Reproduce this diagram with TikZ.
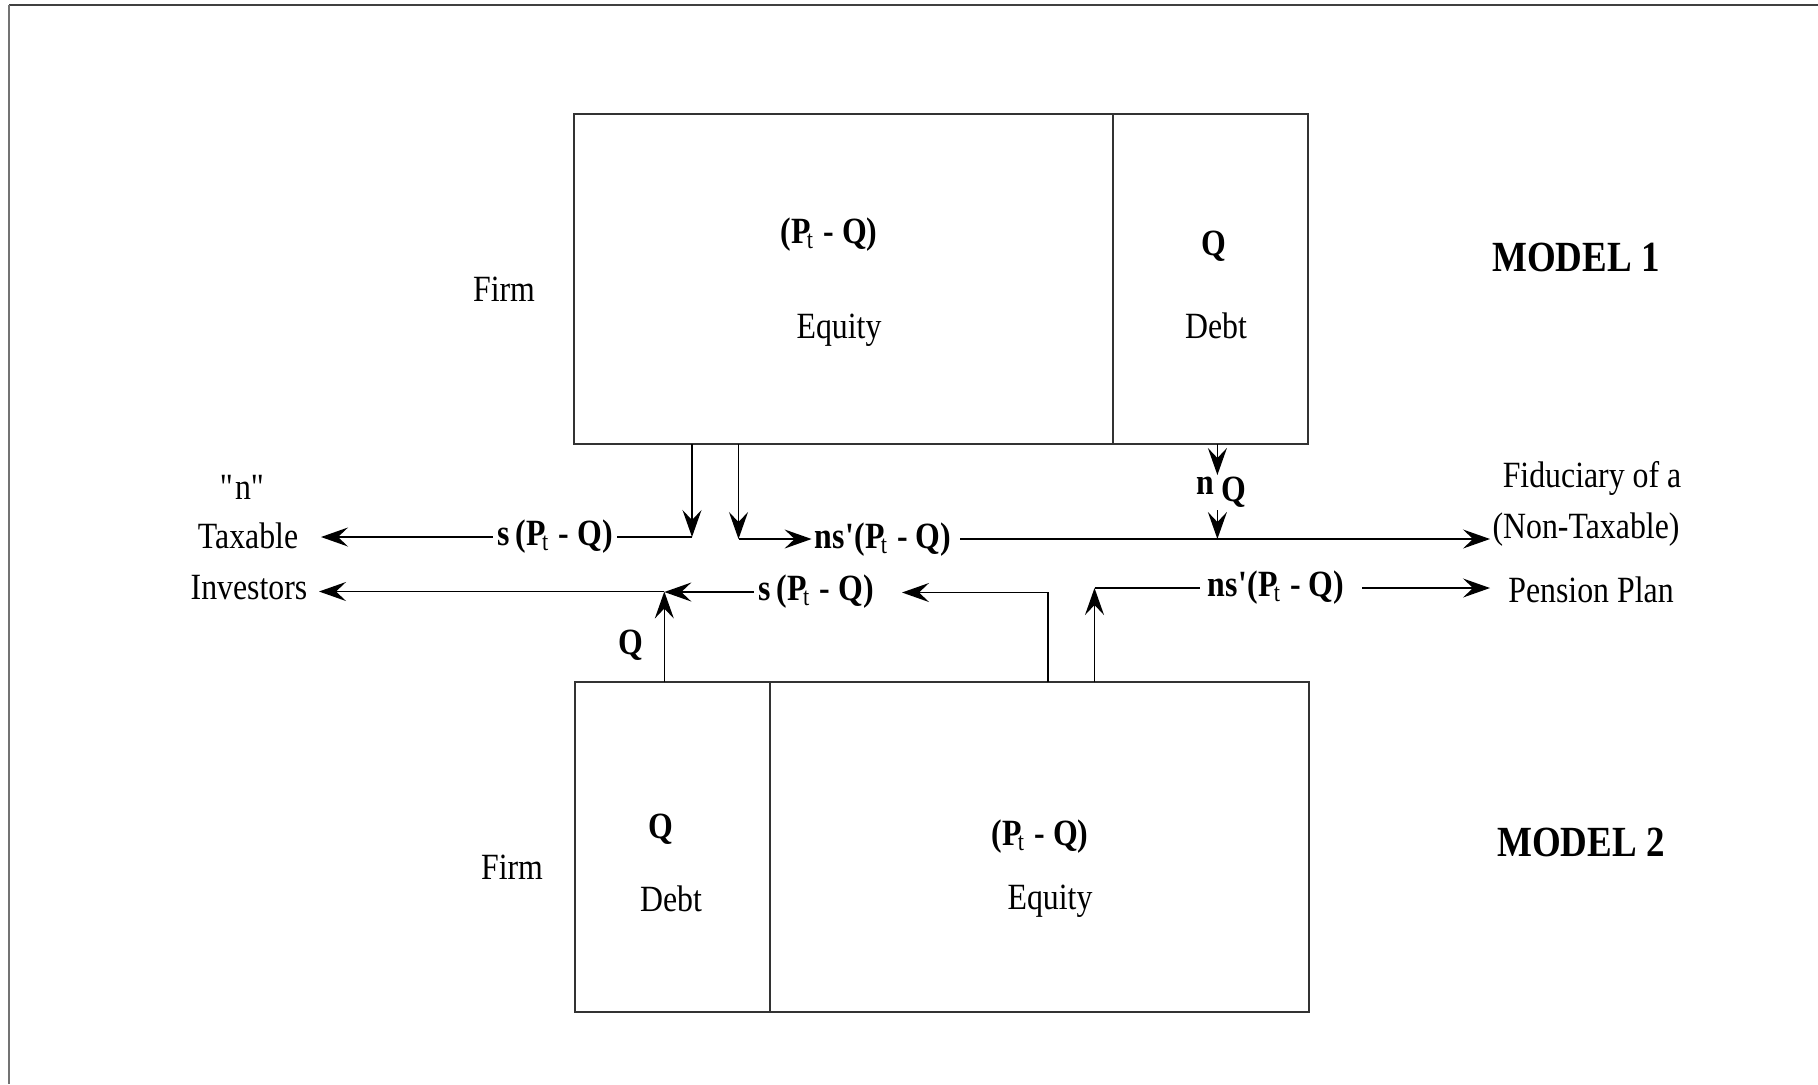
\documentclass[tikz,border=0pt]{standalone}
\usepackage{fontspec}
\setmainfont{Liberation Serif}[FakeStretch=0.86]
\usetikzlibrary{arrows.meta}
\newcommand\Pt{P\kern-0.1em\raisebox{-0.25ex}{\fontsize{13}{13}\selectfont\mdseries t}}
\newcommand\PQ{(\Pt\kern0.28em-\ Q)}
\newcommand\nsq{ns\kern0.02em\textquotesingle\kern-0.04em}
\begin{document}
\begin{tikzpicture}[x=0.5pt,y=-0.5pt,
  ln/.style={line width=0.75pt, draw=black},
  arr/.style={ln, -{Stealth[length=13.5pt,width=9.5pt,inset=5pt]}},
  part/.style={draw=black!80, line width=0.75pt, inner sep=0pt, outer sep=0pt,
               minimum height=165pt, anchor=north west},
  txt/.style={font=\fontsize{18.5}{20}\selectfont, inner sep=0pt},
  btxt/.style={font=\fontsize{18.5}{20}\selectfont\bfseries, inner sep=0pt},
  model/.style={font=\fontsize{21.5}{24}\selectfont\bfseries, inner sep=0pt}]
\useasboundingbox (0,0) rectangle (1818,1084);
% frame
\draw[black!75, line width=1pt] (1818,4.5) -- (8.7,4.5);
\draw[black!55, line width=1.1pt] (8.7,4.5) -- (8.7,1084);
% Model 1 firm
\node[part, minimum width=269.5pt] (teq) at (574,114) {};
\node[part, minimum width=97.5pt] (tdebt) at (1113,114) {};
\node[txt] (firm1) at (504,289) {Firm};
\node[btxt] (pq1) at (829,235) {\PQ};
\node[txt] (eq1) at (839,330) {Equity};
\node[btxt] (q1) at (1214,246) {Q};
\node[txt] (debt1) at (1216,326) {Debt};
\node[model] (m1) at (1576,257) {MODEL 1};
% Model 2 firm
\node[part, minimum width=97.5pt] (bdebt) at (575,682) {};
\node[part, minimum width=269.5pt] (beq) at (770,682) {};
\node[txt] (firm2) at (512,867) {Firm};
\node[btxt] (q2) at (661,829) {Q};
\node[txt] (debt2) at (671,899) {Debt};
\node[btxt] (pq2) at (1040,837) {\PQ};
\node[txt] (eq2) at (1050,901) {Equity};
\node[model] (m2) at (1581,842) {MODEL 2};
% investors and pension plan
\node[txt] (n) at (243,487) {\textquotedbl n\textquotedbl};
\node[txt] (tax) at (248,536) {Taxable};
\node[txt] (inv) at (249,588) {Investors};
\node[txt] (fid) at (1592,478) {Fiduciary of a};
\node[txt] (nontax) at (1586,530) {(Non-Taxable)};
\node[txt] (pens) at (1591,590) {Pension Plan};
% flow labels
\node[btxt] (l1) at (555,537) {s\,\PQ};
\node[btxt] (l2) at (883,540) {\nsq\PQ};
\node[btxt] (l3) at (816,592) {s\,\PQ};
\node[btxt] (l4) at (1276,588) {\nsq\PQ};
\node[btxt] (nq) at (1221,492) {n\kern0.2em\raisebox{-0.4ex}{Q}};
\node[btxt] (qup) at (631,645) {Q};
% junction points and free ends
\coordinate (j1) at (692,537);
\coordinate (j2) at (738.5,539);
\coordinate (j3) at (664.3,591.5);
\coordinate (j4) at (1048,592.5);
\coordinate (j5) at (1094.5,588);
\coordinate (nqa) at (1217.4,475);
\coordinate (nqb) at (1217.4,510);
\coordinate (nqc) at (1217.4,539);
\coordinate (taxtip) at (321,537);
\coordinate (invtip) at (319,591.5);
\coordinate (l1w) at (493,537);
\coordinate (l1e) at (617,537);
\coordinate (l2w) at (811.6,539);
\coordinate (l2e) at (960,539);
\coordinate (nontip) at (1490,539);
\coordinate (l3w) at (753.6,592);
\coordinate (l3e) at (902,592.5);
\coordinate (l4w) at (1200,588);
\coordinate (l4e) at (1362,588);
\coordinate (penstip) at (1490,588);
% connectors, Model 1
\draw[arr] (teq.south -| j1) -- (j1);
\draw[ln] (j1) -- (l1e);
\draw[arr] (l1w) -- (taxtip);
\draw[arr] (teq.south -| j2) -- (j2);
\draw[arr] (j2) -- (l2w);
\draw[ln] (l2e) -- (nqc);
\draw[arr] (nqc) -- (nontip);
\draw[arr] (tdebt.south -| nqa) -- (nqa);
\draw[arr] (nqb) -- (nqc);
% connectors, Model 2
\draw[arr] (bdebt.north -| j3) -- (j3);
\draw[arr] (j3) -- (invtip);
\draw[arr] (l3w) -- (j3 |- l3w);
\draw[arr] (beq.north -| j4) -- (j4) -- (l3e);
\draw[arr] (beq.north -| j5) -- (j5);
\draw[ln] (j5) -- (l4w);
\draw[arr] (l4e) -- (penstip);
\end{tikzpicture}
\end{document}
